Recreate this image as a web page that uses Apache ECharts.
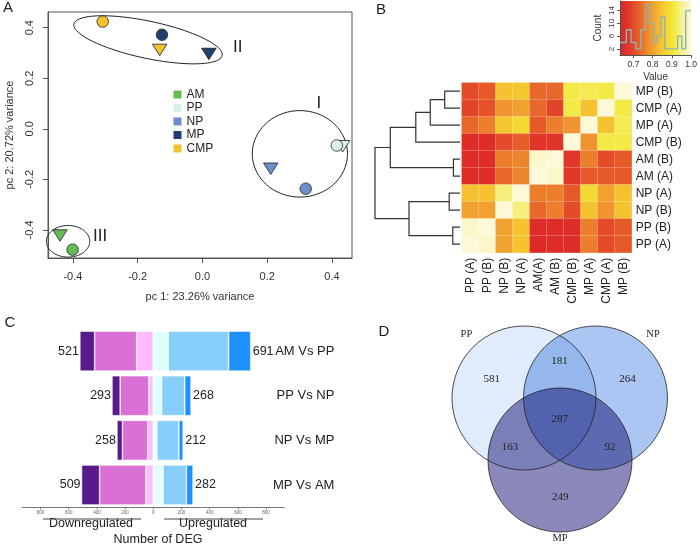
<!DOCTYPE html>
<html><head><meta charset="utf-8">
<script src="https://cdn.jsdelivr.net/npm/echarts@6/dist/echarts.min.js"></script>
<style>html,body{margin:0;padding:0;background:#fff}#c{width:700px;height:545px}</style>
</head><body><div id="c"></div>
<script>
// ---------- Panel A: PCA ----------
const pcaGroups = ['AM', 'PP', 'NP', 'MP', 'CMP'];
const pcaCircleX = [-0.401, 0.415, 0.319, -0.125, -0.308];
const pcaCircleY = [-0.478, -0.066, -0.237, 0.372, 0.424];
const pcaTriangleX = [-0.440, 0.433, 0.211, 0.020, -0.132];
const pcaTriangleY = [-0.422, -0.069, -0.158, 0.296, 0.312];
const pcaTicks = [-0.4, -0.2, 0, 0.2, 0.4];
const clusterNames = ['I', 'II', 'III'];
const clusterCX = [0.301, -0.168, -0.415];
const clusterCY = [-0.099, 0.352, -0.445];
const clusterRX = [0.147, 0.234, 0.067];
const clusterRY = [0.171, 0.0735, 0.0625];
const clusterRot = [0, -12, 0];
const clusterLabelX = [0.36, 0.109, -0.316];
const clusterLabelY = [0.10, 0.321, -0.426];

// ---------- Panel B: correlation heatmap ----------
const heatRows = ['MP (B)', 'CMP (A)', 'MP (A)', 'CMP (B)', 'AM (B)', 'AM (A)', 'NP (A)', 'NP (B)', 'PP (B)', 'PP (A)'];
const heatCols = ['PP (A)', 'PP (B)', 'NP (B)', 'NP (A)', 'AM(A)', 'AM (B)', 'CMP (B)', 'MP (A)', 'CMP (A)', 'MP (B)'];
const heatValues = [
  [0.700, 0.720, 0.845, 0.850, 0.735, 0.735, 0.915, 0.920, 0.915, 1.000],
  [0.690, 0.710, 0.785, 0.800, 0.735, 0.690, 0.915, 0.845, 1.000, 0.915],
  [0.735, 0.760, 0.850, 0.880, 0.720, 0.760, 0.785, 1.000, 0.845, 0.920],
  [0.650, 0.650, 0.700, 0.725, 0.665, 0.665, 1.000, 0.785, 0.915, 0.915],
  [0.650, 0.650, 0.760, 0.768, 0.990, 1.000, 0.670, 0.760, 0.700, 0.720],
  [0.650, 0.650, 0.735, 0.768, 1.000, 0.990, 0.670, 0.720, 0.720, 0.720],
  [0.845, 0.845, 0.940, 1.000, 0.760, 0.760, 0.720, 0.880, 0.800, 0.845],
  [0.800, 0.800, 1.000, 0.940, 0.735, 0.760, 0.700, 0.845, 0.785, 0.845],
  [0.990, 1.000, 0.800, 0.845, 0.650, 0.650, 0.650, 0.760, 0.700, 0.720],
  [1.000, 0.990, 0.800, 0.845, 0.645, 0.650, 0.650, 0.760, 0.700, 0.720]
];
// dendrogram merges: [height, left child position, right child position, left child height, right child height]
const dendroMerges = [
  [0.180, 0, 1, 0, 0],
  [0.350, 0.5, 2, 0.180, 0],
  [0.520, 1.25, 3, 0.350, 0],
  [0.077, 4, 5, 0, 0],
  [0.820, 2.125, 4.5, 0.520, 0.077],
  [0.127, 6, 7, 0, 0],
  [0.085, 8, 9, 0, 0],
  [0.600, 6.5, 8.5, 0.127, 0.085],
  [1.000, 3.3125, 7.5, 0.820, 0.600]
];
// colour key histogram
const keyBreaks = [0.630, 0.663, 0.688, 0.713, 0.738, 0.763, 0.785, 0.805, 0.822, 0.842, 0.863, 0.930, 0.952, 0.972, 1.000];
const keyCounts = [4, 8, 4, 2, 8, 16, 10, 4, 6, 12, 2, 6, 2, 14];
const keyValueTicks = [0.7, 0.8, 0.9, 1.0];
const keyCountTicks = [2, 6, 10, 14];

// ---------- Panel C: DEG bars ----------
const degComparisons = ['AM Vs PP', 'PP Vs NP', 'NP Vs MP', 'MP Vs AM'];
const downLow = [118, 31, 40, 52];
const downMid = [298, 204, 179, 329];
const downHigh = [105, 58, 39, 128];
const upLow = [106, 59, 26, 70];
const upMid = [428, 164, 155, 165];
const upHigh = [157, 45, 31, 47];
const downTotal = [521, 293, 258, 509];
const upTotal = [691, 268, 212, 282];
const degTicks = [-800, -600, -400, -200, 0, 200, 400, 600, 800];

// ---------- Panel D: Venn ----------
const vennSets = ['PP', 'NP', 'MP'];
const vennRegionSets = [[0], [1], [2], [0, 1], [0, 2], [1, 2], [0, 1, 2]];
const vennCounts = [581, 264, 249, 181, 163, 92, 287];

// ================= styles / layout =================
const FONT = 'Liberation Sans, Arial, Helvetica, sans-serif';
const SERIF = 'Liberation Serif, Times New Roman, serif';
const pcaColors = ['#66bb55', '#d9f0ec', '#6d8ecb', '#1f3d6e', '#f3c12f'];
const heatStops = ['#dc2227', '#e03a28', '#e65c2a', '#ed862d', '#f2ae30', '#f6cf2f', '#f3e838', '#f6f29a', '#fdf8d8'];
const degColors = ['#ffbbff', '#da70d6', '#581b8c', '#e0ffff', '#87cefa', '#1e90ff'];
const vennFill = ['#e0ecfb', '#abc6f2', '#8b89bb'];
const vennCenters = [[524, 398], [595.5, 398], [560, 460]];
const vennR = 72;
const vennNameAngle = [-132, -48, 90];
const vennNameDist = [86, 86, 78];
const triPath = 'path://M0,0L20,0L10,16Z';

const chart = echarts.init(document.getElementById('c'), null, {renderer: 'canvas'});

// scatter series
const series = [];
pcaGroups.forEach((g, i) => {
  series.push({
    type: 'scatter', name: g, xAxisIndex: 0, yAxisIndex: 0,
    symbol: 'circle', symbolSize: 11.5,
    itemStyle: {color: pcaColors[i], borderColor: '#222', borderWidth: 0.8, opacity: 1},
    emphasis: {disabled: true},
    data: [
      {value: [pcaTriangleX[i], pcaTriangleY[i]], symbol: triPath, symbolSize: [14.5, 11.5]},
      {value: [pcaCircleX[i], pcaCircleY[i]]}
    ],
    z: 5
  });
});
// ellipses
series.push({
  type: 'custom', xAxisIndex: 0, yAxisIndex: 0, clip: false, silent: true,
  data: clusterNames.map((n, i) => [clusterCX[i], clusterCY[i], clusterRX[i], clusterRY[i], clusterRot[i], clusterLabelX[i], clusterLabelY[i]]),
  renderItem: function (params, api) {
    const c = api.coord([api.value(0), api.value(1)]);
    const s = api.size([api.value(2), api.value(3)]);
    const rot = api.value(4) * Math.PI / 180;
    const pts = [];
    for (let k = 0; k <= 96; k++) {
      const t = k / 96 * Math.PI * 2;
      const ex = s[0] * Math.cos(t), ey = s[1] * Math.sin(t);
      pts.push([c[0] + ex * Math.cos(rot) + ey * Math.sin(rot), c[1] - ex * Math.sin(rot) + ey * Math.cos(rot)]);
    }
    const lp = api.coord([api.value(5), api.value(6)]);
    return {
      type: 'group', children: [
        {type: 'polygon', shape: {points: pts}, style: {fill: null, stroke: '#222', lineWidth: 1}},
        {type: 'text', x: lp[0], y: lp[1], style: {text: clusterNames[params.dataIndex], fontSize: 17, fontFamily: FONT, fill: '#222', align: 'center', verticalAlign: 'middle'}}
      ]
    };
  },
  z: 3
});
// dendrogram
series.push({
  type: 'custom', xAxisIndex: 1, yAxisIndex: 1, clip: false, silent: true,
  data: dendroMerges,
  renderItem: function (params, api) {
    const h = api.value(0), ya = api.value(1), yb = api.value(2), ha = api.value(3), hb = api.value(4);
    return {
      type: 'polyline',
      shape: {points: [api.coord([ha, ya]), api.coord([h, ya]), api.coord([h, yb]), api.coord([hb, yb])]},
      style: {stroke: '#333', lineWidth: 1.2, fill: null}
    };
  }
});
// heatmap
const heatSeriesIndex = series.length;
const heatData = [];
heatRows.forEach((r, ri) => heatCols.forEach((c, ci) => heatData.push([ci, ri, heatValues[ri][ci]])));
series.push({
  type: 'heatmap', xAxisIndex: 2, yAxisIndex: 2, data: heatData,
  itemStyle: {borderColor: 'rgba(255,255,255,0.35)', borderWidth: 0.6},
  emphasis: {disabled: true}
});
// key histogram
const keyData = keyCounts.map((c, i) => [keyBreaks[i], c]);
keyData.push([keyBreaks[keyBreaks.length - 1], keyCounts[keyCounts.length - 1]]);
series.push({
  type: 'line', xAxisIndex: 3, yAxisIndex: 3, step: 'end', symbol: 'none', silent: true,
  lineStyle: {color: '#8fb3b3', width: 1.4}, data: keyData
});
// DEG bars
const degSegs = [downLow, downMid, downHigh, upLow, upMid, upHigh];
degSegs.forEach((arr, k) => {
  const neg = k < 3;
  const s = {
    type: 'bar', xAxisIndex: 4, yAxisIndex: 4, stack: 'deg', barWidth: 40,
    data: arr.map(v => neg ? -v : v),
    itemStyle: {color: degColors[k], borderColor: '#fff', borderWidth: 0.6},
    emphasis: {disabled: true}
  };
  if (k === 2) s.label = {show: true, position: 'left', distance: 1, fontSize: 12.5, fontFamily: FONT, color: '#222', formatter: p => downTotal[p.dataIndex]};
  if (k === 5) s.label = {show: true, position: 'right', distance: 2, fontSize: 12.5, fontFamily: FONT, color: '#222', formatter: p => upTotal[p.dataIndex]};
  series.push(s);
});

// graphic
const graphic = [];
[['A', 8, 8], ['B', 381, 10], ['C', 10, 323], ['D', 384, 332]].forEach(t => {
  graphic.push({type: 'text', x: t[1], y: t[2], style: {text: t[0], fontSize: 15, fontFamily: FONT, fill: '#222', align: 'center', verticalAlign: 'middle'}});
});
graphic.push({type: 'text', x: 91, y: 523.5, style: {text: 'Downregulated', fontSize: 12.5, fontFamily: FONT, fill: '#222', align: 'center', verticalAlign: 'middle'}});
graphic.push({type: 'text', x: 213, y: 523.5, style: {text: 'Upregulated', fontSize: 12.5, fontFamily: FONT, fill: '#222', align: 'center', verticalAlign: 'middle'}});
graphic.push({type: 'text', x: 158, y: 540, style: {text: 'Number of DEG', fontSize: 12.5, fontFamily: FONT, fill: '#222', align: 'center', verticalAlign: 'middle'}});
graphic.push({type: 'line', shape: {x1: 43, y1: 519, x2: 141, y2: 519}, style: {stroke: '#444', lineWidth: 1}});
graphic.push({type: 'line', shape: {x1: 164, y1: 519, x2: 263, y2: 519}, style: {stroke: '#444', lineWidth: 1}});
// venn
vennCenters.forEach((c, i) => {
  graphic.push({type: 'circle', shape: {cx: c[0], cy: c[1], r: vennR}, style: {fill: vennFill[i], blend: 'multiply'}, z: 1});
});
vennCenters.forEach((c, i) => {
  graphic.push({type: 'circle', shape: {cx: c[0], cy: c[1], r: vennR}, style: {fill: null, stroke: '#222', lineWidth: 0.8}, z: 2});
  const a = vennNameAngle[i] * Math.PI / 180;
  graphic.push({type: 'text', x: c[0] + vennNameDist[i] * Math.cos(a), y: c[1] + vennNameDist[i] * Math.sin(a), z: 3,
    style: {text: vennSets[i], fontSize: 10.5, fontFamily: SERIF, fill: '#222', align: 'center', verticalAlign: 'middle'}});
});
const vc = [0, 1].map(d => vennCenters.reduce((s, c) => s + c[d], 0) / 3);
vennRegionSets.forEach((sets, i) => {
  const m = [0, 1].map(d => sets.reduce((s, k) => s + vennCenters[k][d], 0) / sets.length);
  const k = sets.length === 1 ? 1.9 : (sets.length === 2 ? 2.8 : 0);
  const x = vc[0] + k * (m[0] - vc[0]), y = vc[1] + k * (m[1] - vc[1]);
  graphic.push({type: 'text', x: x, y: y, z: 3, style: {text: String(vennCounts[i]), fontSize: 11, fontFamily: SERIF, fill: '#222', align: 'center', verticalAlign: 'middle'}});
});

const keyGradient = new echarts.graphic.LinearGradient(0, 0, 1, 0, heatStops.map((c, i) => ({offset: i / (heatStops.length - 1), color: c})));

const option = {
  backgroundColor: '#fff',
  animation: false,
  textStyle: {fontFamily: FONT},
  legend: {
    data: pcaGroups, orient: 'vertical', left: 168.5, top: 83.5, icon: 'rect',
    itemWidth: 8, itemHeight: 8, itemGap: 1.5, selectedMode: false,
    itemStyle: {borderWidth: 0},
    textStyle: {fontSize: 12, fontFamily: FONT, color: '#222', padding: [0, 0, 0, 0]}
  },
  grid: [
    {left: 48, top: 12, width: 304, height: 246, show: true, borderColor: '#555', borderWidth: 1, backgroundColor: 'transparent'},
    {left: 375, top: 82.7, width: 85, height: 170},
    {left: 461.7, top: 82.7, width: 170, height: 170},
    {left: 620, top: 1, width: 74, height: 54.3, show: true, backgroundColor: keyGradient, borderWidth: 0},
    {left: 22.2, top: 328.8, width: 262.2, height: 178.5}
  ],
  xAxis: [
    {type: 'value', gridIndex: 0, min: -0.477, max: 0.462, splitLine: {show: false},
      axisLine: {show: true, onZero: false, lineStyle: {color: '#555'}},
      axisTick: {show: true, length: 5, customValues: pcaTicks, lineStyle: {color: '#555'}},
      axisLabel: {customValues: pcaTicks, fontSize: 11, color: '#333', margin: 13, formatter: v => v.toFixed(1)},
      name: 'pc 1: 23.26% variance', nameLocation: 'middle', nameGap: 33, nameTextStyle: {fontSize: 11, color: '#333'}},
    {type: 'value', gridIndex: 1, min: 0, max: 1, inverse: true, show: false},
    {type: 'category', gridIndex: 2, data: heatCols, axisLine: {show: false}, axisTick: {show: false}, splitLine: {show: false},
      axisLabel: {rotate: 90, interval: 0, margin: 5, fontSize: 12, color: '#222'}},
    {type: 'value', gridIndex: 3, min: 0.63, max: 1.0, splitLine: {show: false},
      axisLine: {show: true, onZero: false, lineStyle: {color: '#555'}},
      axisTick: {show: true, length: 3, customValues: keyValueTicks, lineStyle: {color: '#555'}},
      axisLabel: {customValues: keyValueTicks, fontSize: 8.5, color: '#333', margin: 5, formatter: v => v.toFixed(1)},
      name: 'Value', nameLocation: 'middle', nameGap: 17, nameTextStyle: {fontSize: 10, color: '#333'}},
    {type: 'value', gridIndex: 4, min: -930, max: 930, splitLine: {show: false},
      axisLine: {show: true, onZero: false, lineStyle: {color: '#777'}},
      axisTick: {show: true, length: 2, customValues: degTicks, lineStyle: {color: '#777'}},
      axisLabel: {customValues: degTicks, fontSize: 4.5, color: '#666', margin: 3, formatter: v => Math.abs(v)}}
  ],
  yAxis: [
    {type: 'value', gridIndex: 0, min: -0.511, max: 0.462, splitLine: {show: false},
      axisLine: {show: true, onZero: false, lineStyle: {color: '#555'}},
      axisTick: {show: true, length: 5, customValues: pcaTicks, lineStyle: {color: '#555'}},
      axisLabel: {customValues: pcaTicks, rotate: 90, fontSize: 11, color: '#333', margin: 13, formatter: v => v.toFixed(1)},
      name: 'pc 2: 20.72% variance', nameLocation: 'middle', nameGap: 33, nameTextStyle: {fontSize: 11, color: '#333'}},
    {type: 'value', gridIndex: 1, min: -0.5, max: 9.5, inverse: true, show: false},
    {type: 'category', gridIndex: 2, data: heatRows, inverse: true, position: 'right', axisLine: {show: false}, axisTick: {show: false},
      axisLabel: {interval: 0, margin: 4, fontSize: 12, color: '#222'}},
    {type: 'value', gridIndex: 3, min: 0, max: 17, splitLine: {show: false},
      axisLine: {show: true, onZero: false, lineStyle: {color: '#555'}},
      axisTick: {show: true, length: 3, customValues: keyCountTicks, lineStyle: {color: '#555'}},
      axisLabel: {customValues: keyCountTicks, rotate: 90, fontSize: 8, color: '#333', margin: 4},
      name: 'Count', nameLocation: 'middle', nameGap: 17, nameTextStyle: {fontSize: 10, color: '#333'}},
    {type: 'category', gridIndex: 4, data: degComparisons, inverse: true, position: 'right',
      axisLine: {show: false}, axisTick: {show: false},
      axisLabel: {align: 'right', margin: 50, fontSize: 13, color: '#222'}}
  ],
  visualMap: {type: 'continuous', show: false, seriesIndex: heatSeriesIndex, min: 0.63, max: 1.0, inRange: {color: heatStops}},
  series: series,
  graphic: graphic
};
chart.setOption(option);
</script></body></html>
